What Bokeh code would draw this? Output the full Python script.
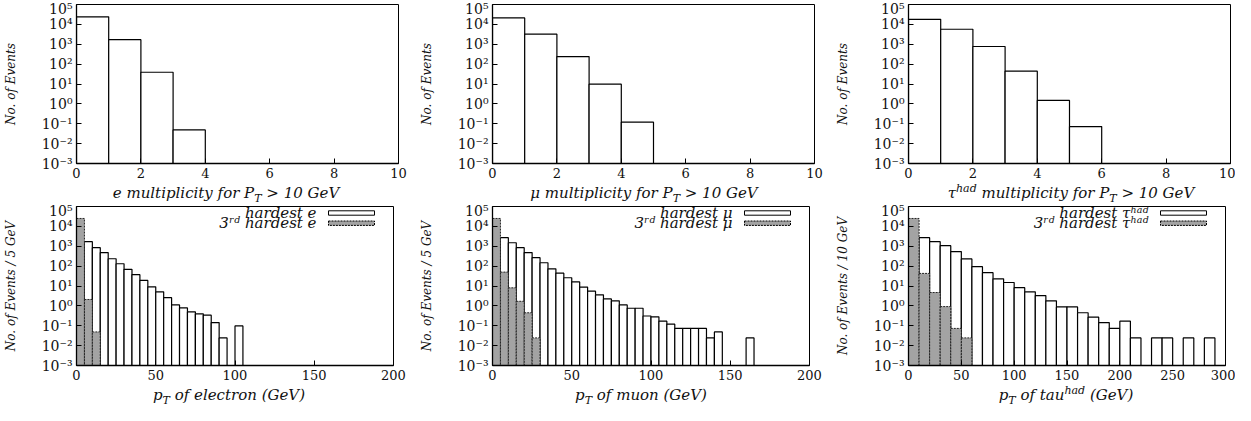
import numpy as np
from bokeh.plotting import figure
from bokeh.models import (Range1d, FixedTicker, CustomJSTickFormatter, Label,
                          BoxAnnotation, ColumnDataSource, Div)
from bokeh.layouts import column, row
from bokeh.embed import file_html
from bokeh.resources import INLINE

# ---------------- data ----------------
mult_width = 1
e_mult = [2.4e4, 1.7e3, 39, 0.049]
mu_mult = [2.1e4, 3.2e3, 240, 9.8, 0.12]
tau_mult = [1.8e4, 5.7e3, 770, 44, 1.5, 0.072]

e_pt_width = 5
e_hard_start = 5
e_hard = [1700, 850, 480, 235, 132, 69, 37, 19, 9.1, 5.1, 2.6, 1.12, 0.79, 0.50,
          0.40, 0.34, 0.145, 0.0245, 0, 0.098]
e_third_start = 0
e_third = [2.5e4, 2.1, 0.049]

mu_pt_width = 5
mu_hard_start = 5
mu_hard = [2700, 1500, 850, 480, 265, 148, 73, 44, 26, 16, 8.8, 5.5, 3.6, 2.25, 1.8,
           1.12, 0.76, 0.76, 0.31, 0.28, 0.17, 0.12, 0.0735, 0.0735, 0.0735, 0.0735,
           0.0245, 0.049, 0, 0, 0, 0.0245]
mu_third_start = 0
mu_third = [2.5e4, 50, 8.1, 1.7, 0.45, 0.0245]

tau_pt_width = 10
tau_hard_start = 10
tau_hard = [2700, 1700, 1070, 540, 230, 94, 47, 23, 15, 8.2, 5.1, 3.3, 1.8, 0.89, 0.89,
            0.45, 0.27, 0.145, 0.0735, 0.17, 0.0245, 0, 0.0245, 0.0245, 0, 0.0245, 0, 0.0245]
tau_third_start = 0
tau_third = [2.5e4, 43, 4.7, 0.92, 0.0735, 0.0245]

y_ticks = [1e-3, 1e-2, 1e-1, 1e0, 1e1, 1e2, 1e3, 1e4, 1e5]
mult_ticks = [0, 2, 4, 6, 8, 10]
pt_ticks_200 = [0, 50, 100, 150, 200]
pt_ticks_300 = [0, 50, 100, 150, 200, 250, 300]

# ---------------- styling helpers ----------------
FONT = "DejaVu Serif"
TXT = "#111111"
GREY = "#a3a3a3"
BL, BT, BB = 73, 4, 21          # left / top / bottom borders of each figure
FH = 159                        # frame height
DIV_H = 18                      # strip holding the x-axis title (row = 202 px)

SUP_JS = """
const sup = {"-": "\u207b", "0": "\u2070", "1": "\u00b9", "2": "\u00b2", "3": "\u00b3",
             "4": "\u2074", "5": "\u2075", "6": "\u2076", "7": "\u2077", "8": "\u2078", "9": "\u2079"};
const e = Math.round(Math.log10(tick));
return "10" + String(e).split("").map(c => sup[c]).join("");
"""


def make_fig(frame_w, border_right, xmax, xticks, ylabel):
    p = figure(width=BL + frame_w + border_right, height=BT + FH + BB,
               x_range=Range1d(0, xmax), y_range=Range1d(1e-3, 1e5),
               y_axis_type="log", output_backend="svg", toolbar_location=None,
               min_border_left=BL, min_border_right=border_right,
               min_border_top=BT, min_border_bottom=BB,
               background_fill_color="white", border_fill_color="white")
    p.grid.visible = False
    p.outline_line_color = "black"
    p.outline_line_alpha = 1
    p.outline_line_width = 1
    for ax in p.axis:
        ax.axis_line_color = "black"
        ax.axis_line_width = 1.3
        ax.major_tick_in = 5
        ax.major_tick_out = 0
        ax.minor_tick_in = 0
        ax.minor_tick_out = 0
        ax.major_tick_line_color = "black"
        ax.major_label_text_font = FONT
        ax.major_label_text_color = TXT
    p.xaxis.axis_label = None
    p.xaxis.major_label_text_font_size = "13px"
    p.xaxis.ticker = FixedTicker(ticks=xticks, minor_ticks=[])
    p.xaxis.major_label_standoff = 4
    p.yaxis.major_label_text_font_size = "14px"
    p.yaxis.ticker = FixedTicker(ticks=y_ticks, minor_ticks=[])
    p.yaxis.formatter = CustomJSTickFormatter(code=SUP_JS)
    p.yaxis.major_label_standoff = 4
    p.yaxis.axis_label = ylabel
    p.yaxis.axis_label_text_font = FONT
    p.yaxis.axis_label_text_font_style = "italic"
    p.yaxis.axis_label_text_font_size = "12px"
    p.yaxis.axis_label_text_color = TXT
    p.yaxis.axis_label_standoff = 21
    return p


def bars(p, start, width, vals, **style):
    v = np.asarray(vals, dtype=float)
    lo = start + width * np.arange(len(v))
    m = v > 0
    src = ColumnDataSource(dict(left=lo[m], right=lo[m] + width, top=v[m],
                                bottom=np.full(int(m.sum()), 1e-4)))
    p.quad(source=src, left="left", right="right", top="top", bottom="bottom", **style)


WHITE_STYLE = dict(fill_color="white", line_color="black", line_width=1.2)
GREY_STYLE = dict(fill_color=GREY, line_color="#222222", line_width=1.0, line_dash="2 1")

SUB = '<sub style="font-size:11px;line-height:0;vertical-align:-4px">{}</sub>'
SUP = '<sup style="font-size:11px;line-height:0;vertical-align:6px">{}</sup>'


def xtitle(fig_w, center, html):
    """HTML strip under a figure holding its x-axis title (centre given from frame left)."""
    cx = BL + center
    if cx >= fig_w / 2:
        pl, pr = 2 * cx - fig_w, 0
    else:
        pl, pr = 0, fig_w - 2 * cx
    inner = (f'<div style="box-sizing:border-box;width:{fig_w}px;padding-left:{pl}px;'
             f'padding-right:{pr}px;text-align:center;white-space:nowrap;'
             f"font-family:'DejaVu Serif';font-style:italic;font-size:15px;"
             f'line-height:18px;color:{TXT};">{html}</div>')
    return Div(text=inner, width=fig_w, height=DIV_H, margin=(0, 0, 0, 0))


def legend(p, frame_w, entries):
    sw_right = frame_w - 22
    sw_left = sw_right - 46
    ys = [FH - 6.5, FH - 16.7]
    for (text, fill, dash), y in zip(entries, ys):
        p.add_layout(Label(x=sw_left - 12, y=y, text=text, x_units="screen", y_units="screen",
                           text_align="right", text_baseline="middle", text_font=FONT,
                           text_font_style="italic", text_font_size="15px", text_color=TXT))
        p.add_layout(BoxAnnotation(left=sw_left, right=sw_right, bottom=y - 2.2, top=y + 2.2,
                                   left_units="screen", right_units="screen",
                                   bottom_units="screen", top_units="screen",
                                   fill_color=fill, fill_alpha=1, line_color="black",
                                   line_alpha=1, line_width=1, line_dash=dash))


TOP_W, BOT_W = 325, 320

# ---------------- top row: multiplicities ----------------
t1 = make_fig(TOP_W, 18, 10, mult_ticks, "No. of Events")
bars(t1, 0, mult_width, e_mult, **WHITE_STYLE)
d1 = xtitle(t1.width, 153, "e multiplicity for P" + SUB.format("T") + " &gt; 10 GeV")

t2 = make_fig(TOP_W, 18, 10, mult_ticks, "No. of Events")
bars(t2, 0, mult_width, mu_mult, **WHITE_STYLE)
d2 = xtitle(t2.width, 155, "μ multiplicity for P" + SUB.format("T") + " &gt; 10 GeV")

t3 = make_fig(TOP_W, 5, 10, mult_ticks, "No. of Events")
bars(t3, 0, mult_width, tau_mult, **WHITE_STYLE)
d3 = xtitle(t3.width, 166, "τ" + SUP.format("had") + " multiplicity for P" + SUB.format("T")
            + " &gt; 10 GeV")

# ---------------- bottom row: pT spectra ----------------
b1 = make_fig(BOT_W, 23, 200, pt_ticks_200, "No. of Events / 5 GeV")
bars(b1, e_hard_start, e_pt_width, e_hard, **WHITE_STYLE)
bars(b1, e_third_start, e_pt_width, e_third, **GREY_STYLE)
legend(b1, BOT_W, [("hardest e", "white", "solid"), ("3ʳᵈ hardest e", GREY, "2 1")])
d4 = xtitle(b1.width, 156, "p" + SUB.format("T") + " of electron (GeV)")

b2 = make_fig(BOT_W, 23, 200, pt_ticks_200, "No. of Events / 5 GeV")
bars(b2, mu_hard_start, mu_pt_width, mu_hard, **WHITE_STYLE)
bars(b2, mu_third_start, mu_pt_width, mu_third, **GREY_STYLE)
legend(b2, BOT_W, [("hardest μ", "white", "solid"), ("3ʳᵈ hardest μ", GREY, "2 1")])
d5 = xtitle(b2.width, 152, "p" + SUB.format("T") + " of muon (GeV)")

b3 = make_fig(BOT_W, 10, 300, pt_ticks_300, "No. of Events / 10 GeV")
bars(b3, tau_hard_start, tau_pt_width, tau_hard, **WHITE_STYLE)
bars(b3, tau_third_start, tau_pt_width, tau_third, **GREY_STYLE)
legend(b3, BOT_W, [("hardest τʰᵃᵈ", "white", "solid"), ("3ʳᵈ hardest τʰᵃᵈ", GREY, "2 1")])
d6 = xtitle(b3.width, 161, "p" + SUB.format("T") + " of tau" + SUP.format("had") + " (GeV)")

layout = column(row(column(t1, d1), column(t2, d2), column(t3, d3)),
                row(column(b1, d4), column(b2, d5), column(b3, d6)))
open("out.html", "w").write(file_html(layout, INLINE))
